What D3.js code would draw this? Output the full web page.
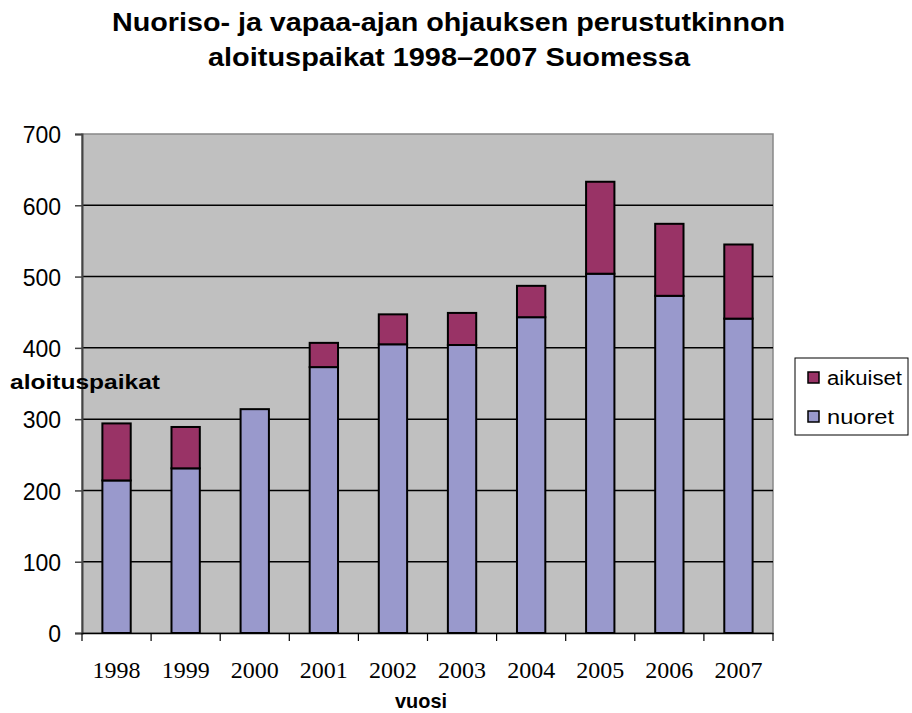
<!DOCTYPE html>
<html><head><meta charset="utf-8">
<script src="https://cdn.jsdelivr.net/npm/d3@7/dist/d3.min.js"></script>
<style>body{margin:0;background:#fff}</style>
</head><body>
<svg id="c" width="912" height="713"></svg>
<script>
const years = ["1998","1999","2000","2001","2002","2003","2004","2005","2006","2007"];
const nuoret = [214,231,314,373,405,404,443,504,473,441];
const aikuiset = [80,58,0,34,42,45,44,129,101,104];
const yTicks = [0,100,200,300,400,500,600,700];
const seriesNames = ["nuoret","aikuiset"];
const colors = {nuoret:"#9999cc", aikuiset:"#993366"};

const svg = d3.select("#c");
const L=82, R=773, T=134, B=633;
const x = d3.scaleBand().domain(years).range([L,R]).paddingInner(0.59).paddingOuter(0.295);
const y = d3.scaleLinear().domain([0,700]).range([B,T]);

svg.append("rect").attr("x",L).attr("y",T).attr("width",R-L).attr("height",B-T).attr("fill","#c0c0c0").attr("stroke","#888").attr("stroke-width",1.5);

svg.append("g").selectAll("line").data(yTicks.filter(d=>d>0 && d<700)).join("line")
  .attr("x1",L).attr("x2",R).attr("y1",d=>y(d)).attr("y2",d=>y(d)).attr("stroke","#000").attr("stroke-width",1.5);

const data = years.map((yr,i)=>({year:yr, nuoret:nuoret[i], aikuiset:aikuiset[i]}));
const stack = d3.stack().keys(seriesNames)(data);
svg.append("g").selectAll("g").data(stack).join("g").attr("fill",d=>colors[d.key])
  .selectAll("rect").data(d=>d.filter(p=>p[1]-p[0]>0)).join("rect")
  .attr("x",d=>x(d.data.year)).attr("width",x.bandwidth())
  .attr("y",d=>y(d[1])).attr("height",d=>y(d[0])-y(d[1]))
  .attr("stroke","#000").attr("stroke-width",2);

const sans = "Liberation Sans, Arial, sans-serif";

// left axis
const ya = d3.axisLeft(y).tickValues(yTicks).tickSize(7).tickPadding(14);
const gy = svg.append("g").attr("transform",`translate(${L},0)`).call(ya);
gy.select(".domain").attr("stroke","#444").attr("stroke-width",2);
gy.selectAll(".tick line").attr("stroke","#444").attr("stroke-width",1.5);
gy.selectAll("text").attr("font-family",sans).attr("font-size",23).attr("fill","#000").attr("dy","0.38em");

// bottom axis
const xa = d3.axisBottom(x).tickSize(0).tickPadding(28);
const gx = svg.append("g").attr("transform",`translate(0,${B})`).call(xa);
gx.select(".domain").attr("stroke","#000").attr("stroke-width",1.5);
gx.selectAll("text").attr("font-family","Liberation Serif, Times New Roman, serif").attr("font-size",24).attr("fill","#000");
const step = x.step();
svg.append("g").selectAll("line").data(d3.range(years.length+1)).join("line")
  .attr("x1",i=>L+i*step).attr("x2",i=>L+i*step).attr("y1",B).attr("y2",B+8).attr("stroke","#000").attr("stroke-width",1.2);

// titles
const t1 = svg.append("text").attr("x",112).attr("y",31)
  .attr("font-family",sans).attr("font-weight","bold").attr("font-size",25).attr("fill","#000")
  .attr("textLength",673).attr("lengthAdjust","spacingAndGlyphs")
  .text("Nuoriso- ja vapaa-ajan ohjauksen perustutkinnon");
const t2 = svg.append("text").attr("x",208).attr("y",65.5)
  .attr("font-family",sans).attr("font-weight","bold").attr("font-size",25).attr("fill","#000")
  .attr("textLength",482).attr("lengthAdjust","spacingAndGlyphs")
  .text("aloituspaikat 1998\u20132007 Suomessa");

svg.append("text").attr("x",395).attr("y",708)
  .attr("font-family",sans).attr("font-weight","bold").attr("font-size",21)
  .attr("textLength",52).attr("lengthAdjust","spacingAndGlyphs").text("vuosi");
svg.append("text").attr("x",10).attr("y",389)
  .attr("font-family",sans).attr("font-weight","bold").attr("font-size",21)
  .attr("textLength",150).attr("lengthAdjust","spacingAndGlyphs").text("aloituspaikat");

// legend
const lg = svg.append("g");
lg.append("rect").attr("x",795).attr("y",358).attr("width",113).attr("height",77).attr("fill","#fff").attr("stroke","#000").attr("stroke-width",1);
const legendItems = ["aikuiset","nuoret"];
const legendLen = {aikuiset:75, nuoret:67};
legendItems.forEach((k,i)=>{
  const base = 385 + i*39;
  lg.append("rect").attr("x",808).attr("y",base-13).attr("width",11).attr("height",11).attr("fill",colors[k]).attr("stroke","#000").attr("stroke-width",1.5);
  lg.append("text").attr("x",827).attr("y",base).attr("font-family",sans).attr("font-size",20)
    .attr("textLength",legendLen[k]).attr("lengthAdjust","spacingAndGlyphs").text(k);
});
</script>
</body></html>
